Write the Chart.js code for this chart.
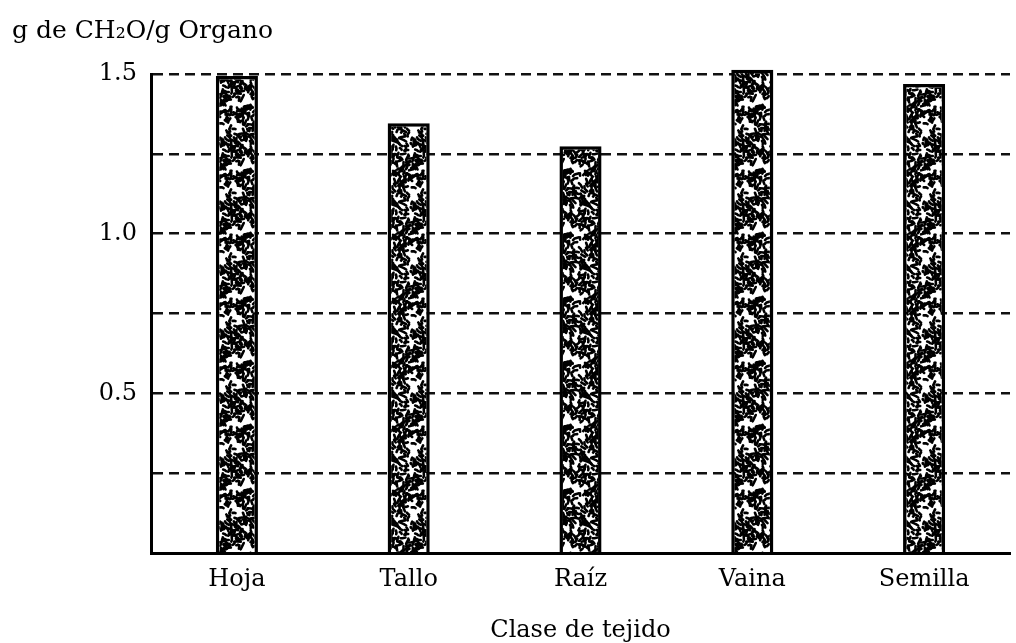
<!DOCTYPE html>
<html>
<head>
<meta charset="utf-8">
<script src="https://cdn.jsdelivr.net/npm/chart.js@4.4.1/dist/chart.umd.min.js"></script>
<style>
  html, body { margin: 0; padding: 0; background: #fff; }
  #wrap { width: 1016px; height: 643px; }
</style>
</head>
<body>
<div id="wrap"><canvas id="chart" width="1016" height="643"></canvas></div>
<script>
"use strict";
// values
const tejidos = ["Hoja", "Tallo", "Raíz", "Vaina", "Semilla"];
const carbohidratos = [1.494, 1.346, 1.274, 1.513, 1.469];
const labeledTicks = [0.5, 1.0, 1.5];

const FONT = "'DejaVu Serif', 'Liberation Serif', serif";

// stipple texture for the bars (fixed seed so it looks the same every run)
function makeStipple() {
    const size = 64;
    const tile = document.createElement("canvas");
    tile.width = size;
    tile.height = size;
    const c = tile.getContext("2d");
    c.fillStyle = "#fff";
    c.fillRect(0, 0, size, size);
    c.strokeStyle = "#000";
    c.lineWidth = 2.6;
    c.lineCap = "round";
    c.lineJoin = "round";
    let seed = 11;
    const next = () => {
        seed = (seed * 16807) % 2147483647;
        return seed / 2147483647;
    };
    for (let i = 0; i < 230; i++) {
        const x = next() * size, y = next() * size;
        const a = next() * Math.PI * 2, len = 1 + next() * 3.5;
        const bend = (next() - 0.5) * 1.6;
        for (let dx = -size; dx <= size; dx += size) {
            for (let dy = -size; dy <= size; dy += size) {
                c.beginPath();
                c.moveTo(x + dx, y + dy);
                const mx = x + dx + Math.cos(a) * len, my = y + dy + Math.sin(a) * len;
                c.lineTo(mx, my);
                c.lineTo(mx + Math.cos(a + bend) * len * 0.6, my + Math.sin(a + bend) * len * 0.6);
                c.stroke();
            }
        }
    }
    return c.createPattern(tile, "repeat");
}

const ctx = document.getElementById("chart").getContext("2d");
new Chart(ctx, {
    type: "bar",
    data: {
        labels: tejidos,
        datasets: [{
            data: carbohidratos,
            backgroundColor: makeStipple(),
            borderColor: "#000",
            borderWidth: 3.5,
            borderSkipped: "bottom",
            barPercentage: 0.245,
            categoryPercentage: 1,
            clip: false
        }]
    },
    options: {
        responsive: false,
        animation: false,
        layout: { padding: { left: 12, right: 6, top: 0, bottom: 0 } },
        plugins: {
            legend: { display: false },
            tooltip: { enabled: false },
            title: {
                display: true,
                text: "g de CH₂O/g Organo",
                align: "start",
                color: "#000",
                font: { family: FONT, size: 25, weight: "normal", lineHeight: 1.2 },
                padding: { top: 16, bottom: 28 }
            }
        },
        scales: {
            x: {
                grid: { display: false },
                border: { display: true, color: "#000", width: 3 },
                ticks: {
                    color: "#000",
                    padding: 4,
                    font: { family: FONT, size: 24, lineHeight: 1.2 }
                },
                title: {
                    display: true,
                    text: "Clase de tejido",
                    color: "#000",
                    font: { family: FONT, size: 24, lineHeight: 1 },
                    padding: { top: 21, bottom: 0 }
                }
            },
            y: {
                min: 0,
                max: 1.5,
                afterFit: (scale) => { scale.width = 139; },
                grid: {
                    drawTicks: false,
                    lineWidth: 2.5,
                    color: (c) => c.tick && c.tick.value === 0 ? "rgba(0,0,0,0)" : "#111"
                },
                border: { display: true, color: "#000", width: 3, dash: [10, 6] },
                ticks: {
                    stepSize: 0.25,
                    color: "#000",
                    padding: 14,
                    font: { family: FONT, size: 24 },
                    callback: (v) => labeledTicks.some(t => Math.abs(t - v) < 1e-6) ? v.toFixed(1) : ""
                }
            }
        }
    }
});
</script>
</body>
</html>
